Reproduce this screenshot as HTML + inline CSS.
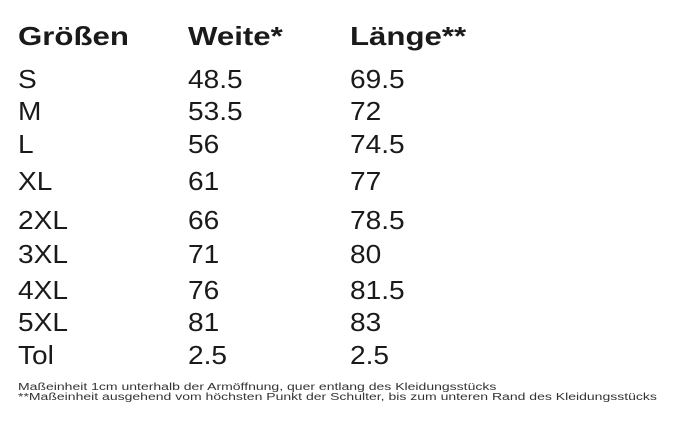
<!DOCTYPE html>
<html><head><meta charset="utf-8"><style>
body{margin:0;width:678px;height:430px;background:#fff;font-family:"Liberation Sans",sans-serif;color:#1a1a1a;position:relative;overflow:hidden}
.r{position:absolute;left:0;height:34px;font-size:26px;line-height:26px}
.r span{position:absolute;top:0;white-space:nowrap;transform-origin:0 0;transform:scaleX(1.08)}
.a{left:18px}.b{left:188px}.c{left:350px}
.h{font-weight:bold}
.h span{transform:scaleX(1.2)}
.f{position:absolute;left:18px;font-size:10px;line-height:10px;color:#333;white-space:nowrap;transform-origin:0 0;transform:scaleX(1.4)}
</style></head><body>
<div class="r h" style="top:23px"><span class="a">Größen</span><span class="b">Weite*</span><span class="c">Länge**</span></div>
<div class="r" style="top:66px"><span class="a">S</span><span class="b">48.5</span><span class="c">69.5</span></div>
<div class="r" style="top:98px"><span class="a">M</span><span class="b">53.5</span><span class="c">72</span></div>
<div class="r" style="top:131px"><span class="a">L</span><span class="b">56</span><span class="c">74.5</span></div>
<div class="r" style="top:168px"><span class="a">XL</span><span class="b">61</span><span class="c">77</span></div>
<div class="r" style="top:207px"><span class="a">2XL</span><span class="b">66</span><span class="c">78.5</span></div>
<div class="r" style="top:241px"><span class="a">3XL</span><span class="b">71</span><span class="c">80</span></div>
<div class="r" style="top:277px"><span class="a">4XL</span><span class="b">76</span><span class="c">81.5</span></div>
<div class="r" style="top:309px"><span class="a">5XL</span><span class="b">81</span><span class="c">83</span></div>
<div class="r" style="top:342px"><span class="a">Tol</span><span class="b">2.5</span><span class="c">2.5</span></div>
<div class="f" style="top:383px">Maßeinheit 1cm unterhalb der Armöffnung, quer entlang des Kleidungsstücks</div>
<div class="f" style="top:393px">**Maßeinheit ausgehend vom höchsten Punkt der Schulter, bis zum unteren Rand des Kleidungsstücks</div>
</body></html>
